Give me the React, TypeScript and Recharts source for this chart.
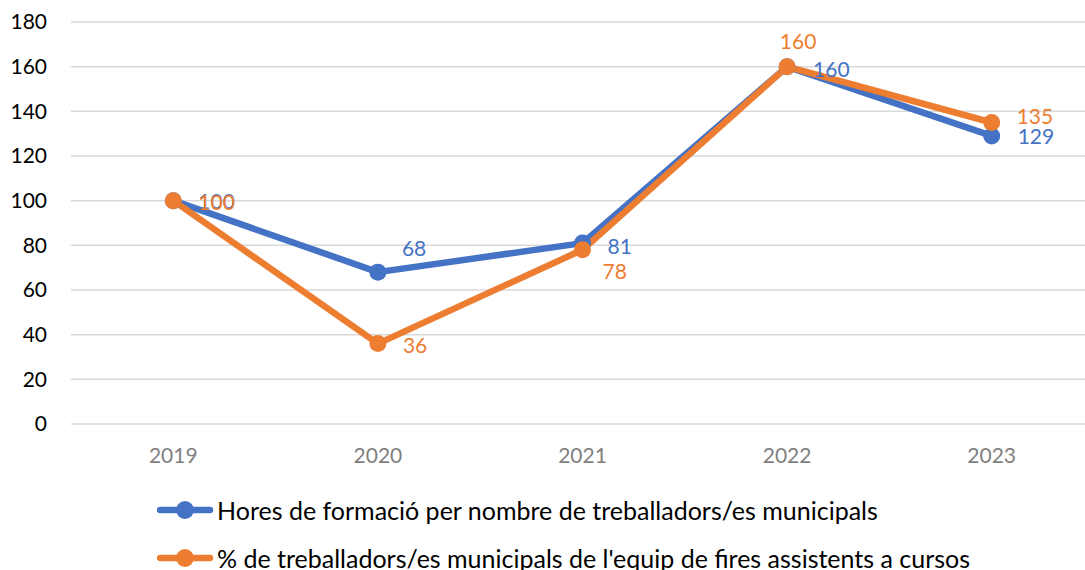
import { LineChart, Line, XAxis, YAxis, CartesianGrid, Legend, LabelList } from "recharts"

const years = ["2019", "2020", "2021", "2022", "2023"]
const hoursPerWorker = [100, 68, 81, 160, 129]
const fairStaffPct = [100, 36, 78, 160, 135]
const yTicks = [0, 20, 40, 60, 80, 100, 120, 140, 160, 180]

const BLUE = "#4472C4"
const ORANGE = "#ED7D31"

// label placement relative to each point (dx, dy, anchor)
const blueLabelOffsets: [number, number, string][] = [
  [25, 0, "start"],
  [24, -25, "start"],
  [25, 2, "start"],
  [26, 2, "start"],
  [26, 0, "start"],
]
const orangeLabelOffsets: [number, number, string][] = [
  [25, 1, "start"],
  [25, 1, "start"],
  [20, 21, "start"],
  [11, -26, "middle"],
  [25, -7, "start"],
]

const data = years.map((year, i) => ({
  year,
  hours: hoursPerWorker[i],
  pct: fairStaffPct[i],
}))

const makeLabel = (color: string, offsets: [number, number, string][]) => (props: any) => {
  const { x, y, value, index } = props
  const [dx, dy, anchor] = offsets[index] || [25, 0, "start"]
  return (
    <text
      x={x + dx}
      y={y + dy}
      fill={color}
      fontSize={21}
      textAnchor={anchor as any}
      dominantBaseline="central"
    >
      {value}
    </text>
  )
}

const renderLegend = (props: any) => {
  const { payload } = props
  return (
    <div style={{ position: "relative", width: 1085, height: 100 }}>
      {(payload || []).map((entry: any, i: number) => (
        <div
          key={entry.value}
          style={{
            position: "absolute",
            left: 157,
            top: 40 + i * 48 - 15,
            height: 30,
            display: "flex",
            alignItems: "center",
          }}
        >
          <svg width={60} height={30} style={{ display: "block" }}>
            <line x1={3} y1={15} x2={53} y2={15} stroke={entry.color} strokeWidth={6.5} strokeLinecap="round" />
            <circle cx={28} cy={15} r={9} fill={entry.color} />
          </svg>
          <span style={{ fontSize: 25, color: "#000", marginLeft: 0, whiteSpace: "nowrap" }}>{entry.value}</span>
        </div>
      ))}
    </div>
  )
}

export default function App() {
  return (
    <div
      style={{
        position: "absolute",
        left: 0,
        top: 0,
        width: 1085,
        height: 570,
        overflow: "hidden",
        background: "#fff",
        fontFamily: "Lato, 'Noto Sans', sans-serif",
      }}
    >
      <LineChart width={1094} height={570} data={data} margin={{ top: 22, right: 0, left: 0, bottom: 0 }}>
        <CartesianGrid vertical={false} stroke="#D9D9D9" strokeWidth={1.5} />
        <XAxis
          dataKey="year"
          axisLine={false}
          tickLine={false}
          tickSize={0}
          tickMargin={24}
          height={46}
          padding={{ left: 102.3, right: 102.3 }}
          tick={{ fill: "#7F7F7F", fontSize: 21 }}
        />
        <YAxis
          domain={[0, 180]}
          ticks={yTicks}
          axisLine={false}
          tickLine={false}
          tickSize={0}
          tickMargin={24}
          width={71}
          tick={{ fill: "#000", fontSize: 21 }}
        />
        <Legend
          verticalAlign="bottom"
          content={renderLegend}
          itemSorter={(item: any) => (item.dataKey === "hours" ? 0 : 1)}
        />
        <Line
          type="linear"
          dataKey="hours"
          name="Hores de formació per nombre de treballadors/es municipals"
          stroke={BLUE}
          strokeWidth={6.5}
          strokeLinejoin="round"
          dot={{ r: 8.5, fill: BLUE, stroke: BLUE, strokeWidth: 0 }}
          activeDot={false}
          isAnimationActive={false}
        >
          <LabelList dataKey="hours" content={makeLabel(BLUE, blueLabelOffsets)} />
        </Line>
        <Line
          type="linear"
          dataKey="pct"
          name="% de treballadors/es municipals de l'equip de fires assistents a cursos"
          stroke={ORANGE}
          strokeWidth={6.5}
          strokeLinejoin="round"
          dot={{ r: 8.5, fill: ORANGE, stroke: ORANGE, strokeWidth: 0 }}
          activeDot={false}
          isAnimationActive={false}
        >
          <LabelList dataKey="pct" content={makeLabel(ORANGE, orangeLabelOffsets)} />
        </Line>
      </LineChart>
    </div>
  )
}
